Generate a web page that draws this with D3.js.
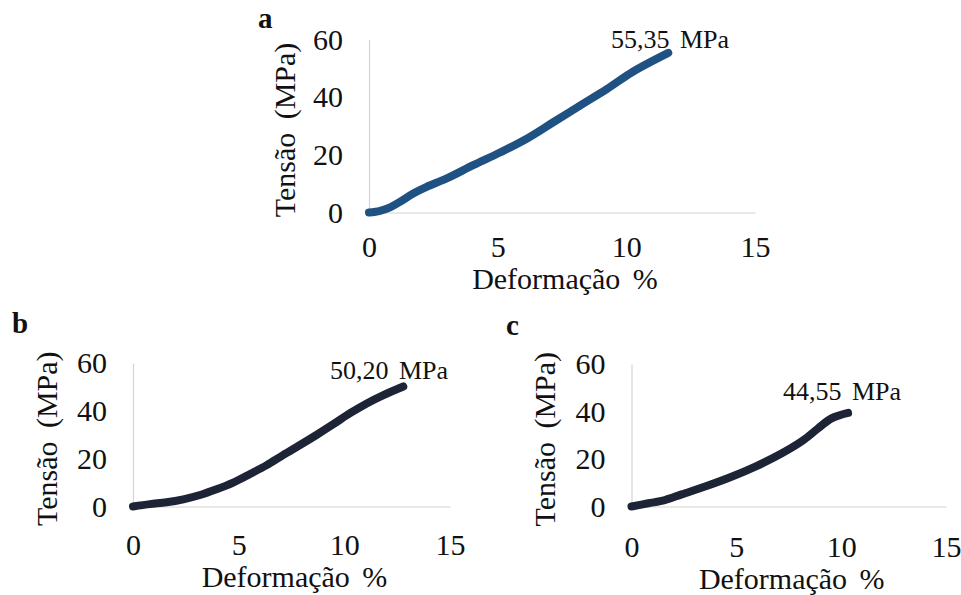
<!DOCTYPE html>
<html>
<head>
<meta charset="utf-8">
<script src="https://cdn.jsdelivr.net/npm/d3@7"></script>
<style>
  body { margin: 0; background: #fff; }
  svg { display: block; }
  .domain { stroke: #d4d4d4; stroke-width: 1.2; }
</style>
</head>
<body>
<div id="chart"></div>
<script>
// tick values shared by the three panels
const xTicks = [0, 5, 10, 15];
const yTicks = [0, 20, 40, 60];

// panel a
const strainA = [0, 0.43, 0.82, 1.2, 1.72, 2.24, 3.02, 4.05, 5.09, 6.13, 7.16, 8.2, 9.24, 10.27, 11.63];
const stressA = [0, 0.6, 1.8, 3.7, 6.6, 8.9, 11.8, 16.4, 20.8, 25.6, 31.3, 37.1, 42.8, 48.9, 55.35];
// panel b
const strainB = [0, 0.8, 1.59, 2.38, 3.17, 3.95, 4.74, 5.54, 6.33, 7.1, 7.9, 8.68, 9.48, 10.27, 11.06, 11.85, 12.79];
const stressB = [0, 1.0, 1.75, 3.0, 4.8, 7.2, 10, 13.6, 17.3, 21.5, 25.7, 29.9, 34.4, 39, 43.1, 46.6, 50.2];
// panel c
const strainC = [0, 0.8, 1.59, 2.39, 3.58, 4.77, 5.96, 7.15, 8.19, 8.9, 9.54, 10.33];
const stressC = [0, 1.35, 2.7, 5.1, 8.6, 12.5, 17, 22.3, 27.9, 32.9, 37.1, 39.4];

const letters = ['a', 'b', 'c'];
const peakLabels = ['55,35 MPa', '50,20 MPa', '44,55 MPa'];

const panels = [
  { x: strainA, y: stressA, color: '#1f5182',
    x0: 369, x1: 755, y0: 212.5, y1: 39.5,
    letter: [258, 28], peak: [611, 48], ylab: 284, xlab: 289, xpad: 23 },
  { x: strainB, y: stressB, color: '#1d2436',
    x0: 133, x1: 450, y0: 506.5, y1: 363,
    letter: [12, 333], peak: [330, 379], ylab: 46, xlab: 587, xpad: 27 },
  { x: strainC, y: stressC, color: '#1d2436',
    x0: 631.5, x1: 946, y0: 506.5, y1: 364,
    letter: [506, 335], peak: [783, 400], ylab: 544, xlab: 589, xpad: 29 }
];

const svg = d3.select('#chart').append('svg')
  .attr('width', 961)
  .attr('height', 595);

panels.forEach((p, i) => {
  const x = d3.scaleLinear().domain([0, 15]).range([p.x0, p.x1]);
  const y = d3.scaleLinear().domain([0, 60]).range([p.y0, p.y1]);
  const g = svg.append('g');

  const xAxis = g.append('g')
    .attr('transform', `translate(0,${p.y0})`)
    .call(d3.axisBottom(x).tickValues(xTicks).tickSize(0).tickPadding(p.xpad));
  const yAxis = g.append('g')
    .attr('transform', `translate(${p.x0},0)`)
    .call(d3.axisLeft(y).tickValues(yTicks).tickSize(0).tickPadding(26));
  [xAxis, yAxis].forEach(a => {
    a.selectAll('text')
      .style('font-family', '"Liberation Serif"')
      .style('font-size', '30px')
      .attr('fill', '#111');
  });

  const pts = p.x.map((v, k) => [v, p.y[k]]);
  const line = d3.line()
    .x(d => x(d[0]))
    .y(d => y(d[1]))
    .curve(d3.curveCatmullRom.alpha(0.5));
  g.append('path')
    .datum(pts)
    .attr('d', line)
    .attr('fill', 'none')
    .attr('stroke', p.color)
    .attr('stroke-width', 8)
    .attr('stroke-linecap', 'round')
    .attr('stroke-linejoin', 'round');

  const txt = () => g.append('text')
    .style('font-family', '"Liberation Serif"')
    .attr('fill', '#111');

  txt()
    .attr('x', p.letter[0])
    .attr('y', p.letter[1])
    .style('font-size', '29px')
    .style('font-weight', 'bold')
    .text(letters[i]);

  txt()
    .attr('x', p.peak[0])
    .attr('y', p.peak[1])
    .style('font-size', '26px')
    .style('word-spacing', '4px')
    .text(peakLabels[i]);

  txt()
    .attr('transform', `translate(${p.ylab},${(p.y0 + p.y1) / 2 + 4}) rotate(-90)`)
    .attr('text-anchor', 'middle')
    .attr('dominant-baseline', 'central')
    .style('font-size', '30px')
    .style('word-spacing', '6px')
    .text('Tensão (MPa)');

  txt()
    .attr('x', (p.x0 + p.x1) / 2 + 3)
    .attr('y', p.xlab)
    .attr('text-anchor', 'middle')
    .style('font-size', '30px')
    .style('word-spacing', '5px')
    .text('Deformação %');
});
</script>
</body>
</html>
